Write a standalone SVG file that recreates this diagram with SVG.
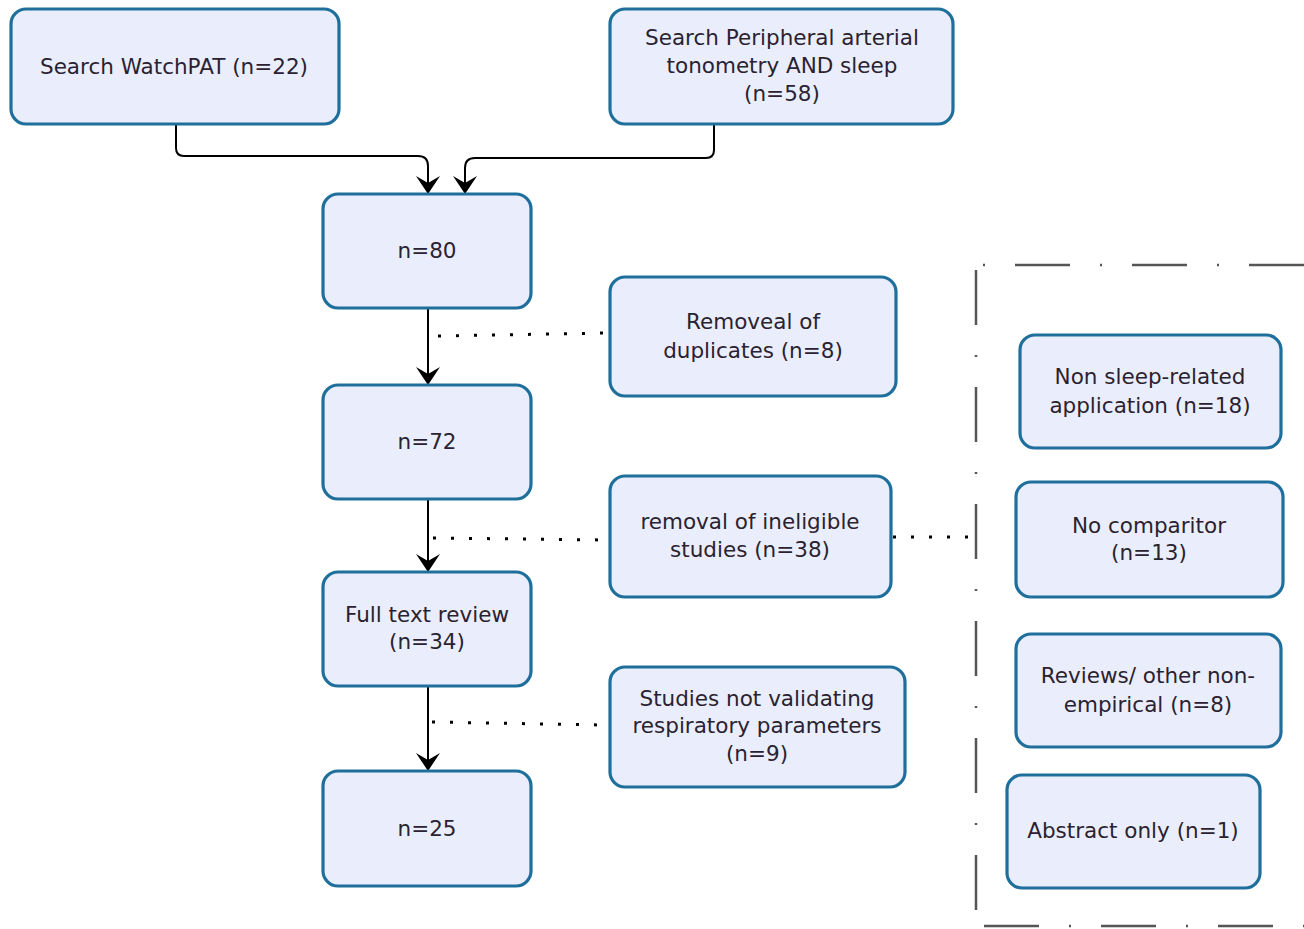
<svg xmlns="http://www.w3.org/2000/svg" width="1304" height="929" viewBox="0 0 1304 929">
  <defs>
    <marker id="arrow" viewBox="0 0 20 24" refX="20" refY="12" markerWidth="20" markerHeight="24" markerUnits="userSpaceOnUse" orient="auto">
      <path d="M2,0 L20,12 L2,24 L9,12 Z" fill="#000"/>
    </marker>
    <style>
      .box { fill: #eaeefc; stroke: #1f6f9c; stroke-width: 3.2; }
      .lbl { font-family: "DejaVu Sans", Verdana, sans-serif; font-size: 21.5px; fill: #2a2230; text-anchor: middle; }
      .flow { fill: none; stroke: #000; stroke-width: 2; }
      .dots { fill: none; stroke: #000; stroke-width: 3; stroke-dasharray: 3 15; }
      .frame { fill: none; stroke: #555; stroke-width: 2.5; stroke-dasharray: 55 30 2 30; }
    </style>
  </defs>

  <!-- connectors -->
  <g id="connectors">
    <path class="flow" d="M176,124 V148 Q176,156 184,156 H418 Q428,156 428,166 V194" marker-end="url(#arrow)"/>
    <path class="flow" d="M714,124 V150 Q714,158 706,158 H475 Q465,158 465,168 V194" marker-end="url(#arrow)"/>
    <path class="flow" d="M428,308 V385" marker-end="url(#arrow)"/>
    <path class="flow" d="M428,499 V572" marker-end="url(#arrow)"/>
    <path class="flow" d="M428,686 V771" marker-end="url(#arrow)"/>
    <path class="dots" d="M438,336 L606,333"/>
    <path class="dots" d="M433,538 L606,540"/>
    <path class="dots" d="M432,722 L602,725"/>
    <path class="dots" d="M893,537 L970,537"/>
  </g>

  <!-- exclusion frame -->
  <g id="exclusion-frame">
    <path class="frame" d="M1304,265 H982"/>
    <path class="frame" d="M976,270 V912"/>
    <path class="frame" d="M984,926 H1304"/>
  </g>

  <g id="search-watchpat">
    <rect class="box" x="11" y="9" width="328" height="115" rx="15"/>
    <text class="lbl" x="174" y="74">Search WatchPAT (n=22)</text>
  </g>
  <g id="search-pat">
    <rect class="box" x="610" y="9" width="343" height="115" rx="15"/>
    <text class="lbl" x="782" y="45">Search Peripheral arterial</text>
    <text class="lbl" x="782" y="73">tonometry AND sleep</text>
    <text class="lbl" x="782" y="101">(n=58)</text>
  </g>
  <g id="n80">
    <rect class="box" x="323" y="194" width="208" height="114" rx="15"/>
    <text class="lbl" x="427" y="258">n=80</text>
  </g>
  <g id="duplicates">
    <rect class="box" x="610" y="277" width="286" height="119" rx="15"/>
    <text class="lbl" x="753" y="329">Removeal of</text>
    <text class="lbl" x="753" y="358">duplicates (n=8)</text>
  </g>
  <g id="n72">
    <rect class="box" x="323" y="385" width="208" height="114" rx="15"/>
    <text class="lbl" x="427" y="449">n=72</text>
  </g>
  <g id="ineligible">
    <rect class="box" x="610" y="476" width="281" height="121" rx="15"/>
    <text class="lbl" x="750" y="529">removal of ineligible</text>
    <text class="lbl" x="750" y="557">studies (n=38)</text>
  </g>
  <g id="full-text">
    <rect class="box" x="323" y="572" width="208" height="114" rx="15"/>
    <text class="lbl" x="427" y="622">Full text review</text>
    <text class="lbl" x="427" y="649">(n=34)</text>
  </g>
  <g id="not-validating">
    <rect class="box" x="610" y="667" width="295" height="120" rx="15"/>
    <text class="lbl" x="757" y="706">Studies not validating</text>
    <text class="lbl" x="757" y="733">respiratory parameters</text>
    <text class="lbl" x="757" y="761">(n=9)</text>
  </g>
  <g id="n25">
    <rect class="box" x="323" y="771" width="208" height="115" rx="15"/>
    <text class="lbl" x="427" y="836">n=25</text>
  </g>
  <g id="non-sleep">
    <rect class="box" x="1020" y="335" width="261" height="113" rx="15"/>
    <text class="lbl" x="1150" y="384">Non sleep-related</text>
    <text class="lbl" x="1150" y="413">application (n=18)</text>
  </g>
  <g id="no-comparitor">
    <rect class="box" x="1016" y="482" width="267" height="115" rx="15"/>
    <text class="lbl" x="1149" y="533">No comparitor</text>
    <text class="lbl" x="1149" y="560">(n=13)</text>
  </g>
  <g id="reviews">
    <rect class="box" x="1016" y="634" width="265" height="113" rx="15"/>
    <text class="lbl" x="1148" y="683">Reviews/ other non-</text>
    <text class="lbl" x="1148" y="712">empirical (n=8)</text>
  </g>
  <g id="abstract-only">
    <rect class="box" x="1007" y="775" width="253" height="113" rx="15"/>
    <text class="lbl" x="1133" y="838">Abstract only (n=1)</text>
  </g>
</svg>
